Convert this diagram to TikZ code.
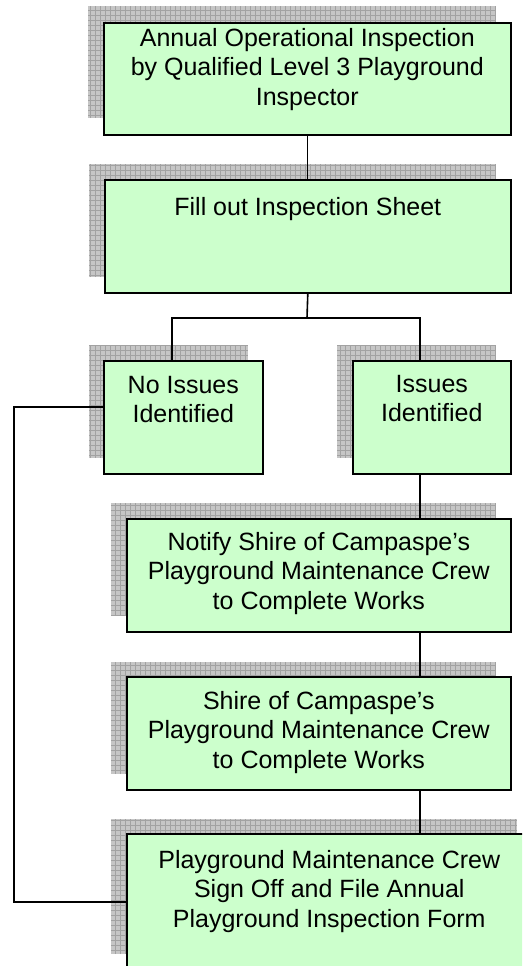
\documentclass[tikz,border=0pt]{standalone}
\usepackage{fontspec}
\setmainfont{Liberation Sans}
\usetikzlibrary{positioning}
\definecolor{boxgreen}{HTML}{CCFFCC}
\definecolor{shadegray}{HTML}{C6C6C6}
\definecolor{gridgray}{HTML}{A2A2A2}
\begin{document}
\begin{tikzpicture}[x=1pt, y=-1pt,
    stepbox/.style={draw=black, line width=1.6pt, fill=boxgreen, anchor=north west, inner sep=0pt},
    words/.style={inner sep=0pt, align=center, font=\fontsize{25}{29.5}\selectfont},
    link/.style={black, line width=1.6pt}]
  \useasboundingbox (0,0) rectangle (522,966);
  \clip (0,0) rectangle (522,966);
  % hatched shadows behind the boxes
  \foreach \xa/\ya/\xb/\yb in {88/6/496/118, 89/164/496/277, 89/345/248/458,
      337/345/496/458, 111/503/496/616, 111/662/496/774, 111/819/517/954}
  {
    \fill[shadegray] (\xa,\ya) rectangle (\xb,\yb);
    \draw[gridgray, line width=0.6pt, step=5pt] (\xa,\yb) grid (\xb,\ya);
  }
  % boxes
  \node[stepbox, minimum width=407pt, minimum height=112pt] (annual) at (103,22) {};
  \node[stepbox, minimum width=406pt, minimum height=113pt] (sheet) at (104,179) {};
  \node[stepbox, minimum width=159pt, minimum height=113pt] (noissue) at (103,360) {};
  \node[stepbox, minimum width=158pt, minimum height=113pt] (issues) at (352,360) {};
  \node[stepbox, minimum width=384pt, minimum height=113pt] (notify) at (126,518) {};
  \node[stepbox, minimum width=384pt, minimum height=113pt] (shire) at (126,676) {};
  \node[stepbox, minimum width=405pt, minimum height=136pt] (signoff) at (126,833) {};
  % texts, hung from the top of each box
  \node[words, below=6pt of annual.north] (annualtext)
      {Annual Operational Inspection\\by Qualified Level 3 Playground\\Inspector};
  \node[words, below=18pt of sheet.north] (sheettext) {Fill out Inspection Sheet};
  \node[words, below=16pt of noissue.north] (noissuetext) {No Issues\\Identified};
  \node[words, below=15pt of issues.north] (issuestext) {Issues\\Identified};
  \node[words, below=14pt of notify.north] (notifytext)
      {Notify Shire of Campaspe’s\\Playground Maintenance Crew\\to Complete Works};
  \node[words, below=15pt of shire.north] (shiretext)
      {Shire of Campaspe’s\\Playground Maintenance Crew\\to Complete Works};
  \node[words, below=17pt of signoff.north] (signofftext)
      {Playground Maintenance Crew\\Sign Off and File Annual\\Playground Inspection Form};
  % connectors
  \coordinate (fork) at (307,318);
  \coordinate (noin) at (172,360);
  \coordinate (yesin) at (420,360);
  \draw[link] (annual.south) -- (annual.south |- sheet.north);
  \draw[link] (sheet.south) -- (fork);
  \draw[link] (noin) |- (fork) -| (yesin);
  \draw[link] (issues.south -| yesin) -- (notify.north -| yesin);
  \draw[link] (notify.south -| yesin) -- (shire.north -| yesin);
  \draw[link] (shire.south -| yesin) -- (signoff.north -| yesin);
  \draw[link] ([yshift=10.5pt]noissue.west) -- ++(-89,0) |- (signoff.west);
\end{tikzpicture}
\end{document}
